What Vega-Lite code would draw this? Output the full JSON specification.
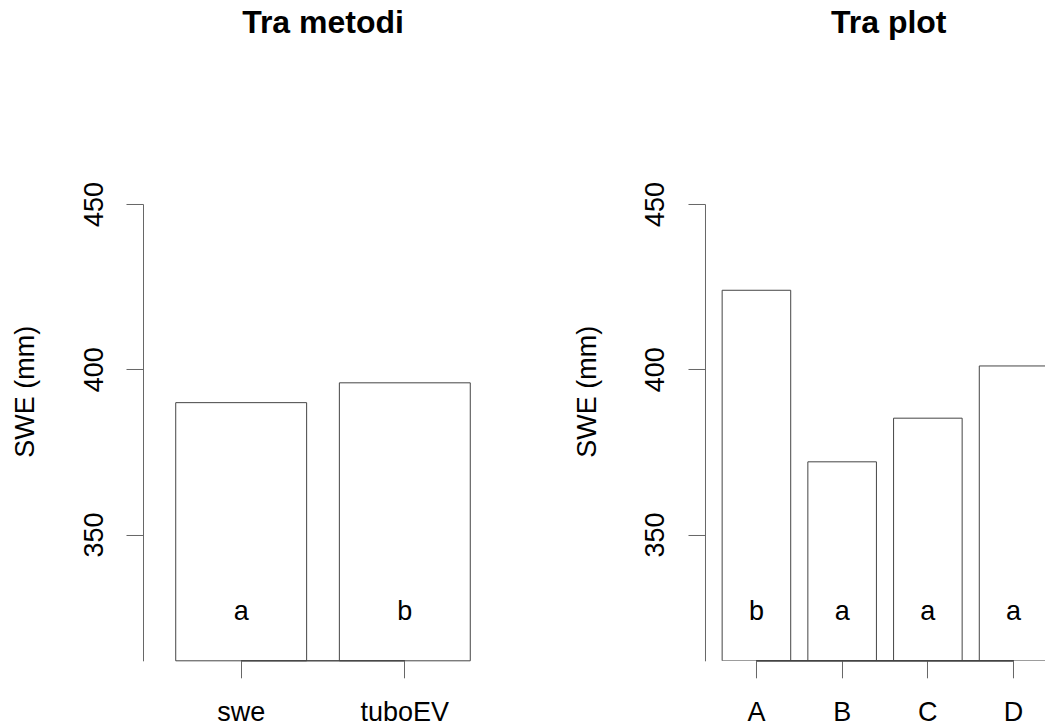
{
  "$schema": "https://vega.github.io/schema/vega-lite/v6.json",
  "padding": {"left": 11, "top": 7, "right": 0, "bottom": 0},
  "spacing": 70,
  "background": "white",
  "config": {
    "view": {"stroke": null},
    "font": "Liberation Sans",
    "title": {"fontSize": 32, "fontWeight": "bold", "color": "#000", "anchor": "middle", "baseline": "alphabetic", "offset": 141.4, "font": "Liberation Sans"},
    "axis": {"grid": false, "domainColor": "#666", "tickColor": "#666", "tickSize": 17, "labelFontSize": 27, "titleFontSize": 27, "labelColor": "#000", "titleColor": "#000", "titleFontWeight": "normal", "labelFont": "Liberation Sans", "titleFont": "Liberation Sans"}
  },
  "hconcat": [
    {
      "width": 360,
      "height": 456.8,
      "title": "Tra metodi",
      "data": {"values": [
        {"metodo": "swe", "swe": 389.9, "gruppo": "a"},
        {"metodo": "tuboEV", "swe": 395.9, "gruppo": "b"}
      ]},
      "encoding": {
        "x": {"field": "metodo", "type": "nominal", "sort": null,
              "scale": {"paddingInner": 0.2, "paddingOuter": 0.2},
              "axis": {"title": null, "labelAngle": 0, "domain": false, "labelBaseline": "alphabetic", "labelPadding": 43}}
      },
      "layer": [
        {
          "mark": {"type": "bar", "fill": "white", "stroke": "#444", "strokeWidth": 1},
          "encoding": {
            "y": {"field": "swe", "type": "quantitative",
                  "scale": {"domain": [311.8, 450], "nice": false, "zero": false},
                  "axis": {"title": "SWE (mm)", "values": [350, 400, 450], "labelAngle": -90, "labelAlign": "center", "labelBaseline": "alphabetic", "labelPadding": 24, "titleX": -109.7, "titleY": 187.3, "titleAngle": -90, "titleBaseline": "alphabetic", "titleAlign": "center"}},
            "y2": {"datum": 311.8}
          }
        },
        {
          "mark": {"type": "text", "fontSize": 27, "baseline": "alphabetic", "color": "#000"},
          "encoding": {"y": {"datum": 324.2, "type": "quantitative"}, "text": {"field": "gruppo"}}
        },
        {
          "mark": {"type": "rule", "color": "#444"},
          "encoding": {"x": {"datum": "swe"}, "x2": {"datum": "tuboEV"}, "y": {"datum": 311.8, "type": "quantitative"}}
        }
      ]
    },
    {
      "width": 340.7,
      "height": 456.8,
      "title": {"text": "Tra plot", "dx": 13.4},
      "data": {"values": [
        {"plot": "A", "swe": 423.9, "gruppo": "b"},
        {"plot": "B", "swe": 372.0, "gruppo": "a"},
        {"plot": "C", "swe": 385.2, "gruppo": "a"},
        {"plot": "D", "swe": 401.0, "gruppo": "a"}
      ]},
      "encoding": {
        "x": {"field": "plot", "type": "nominal", "sort": null,
              "scale": {"domain": ["A", "B", "C", "D"], "range": [0, 360], "paddingInner": 0.2, "paddingOuter": 0.2},
              "axis": {"title": null, "labelAngle": 0, "domain": false, "labelBaseline": "alphabetic", "labelPadding": 43}}
      },
      "layer": [
        {
          "mark": {"type": "bar", "fill": "white", "stroke": "#444", "strokeWidth": 1, "clip": true},
          "encoding": {
            "y": {"field": "swe", "type": "quantitative",
                  "scale": {"domain": [311.8, 450], "nice": false, "zero": false},
                  "axis": {"title": "SWE (mm)", "values": [350, 400, 450], "labelAngle": -90, "labelAlign": "center", "labelBaseline": "alphabetic", "labelPadding": 24, "titleX": -109.7, "titleY": 187.3, "titleAngle": -90, "titleBaseline": "alphabetic", "titleAlign": "center"}},
            "y2": {"datum": 311.8}
          }
        },
        {
          "mark": {"type": "text", "fontSize": 27, "baseline": "alphabetic", "color": "#000"},
          "encoding": {"y": {"datum": 324.2, "type": "quantitative"}, "text": {"field": "gruppo"}}
        },
        {
          "mark": {"type": "rule", "color": "#444"},
          "encoding": {"x": {"datum": "A"}, "x2": {"datum": "D"}, "y": {"datum": 311.8, "type": "quantitative"}}
        }
      ]
    }
  ]
}
